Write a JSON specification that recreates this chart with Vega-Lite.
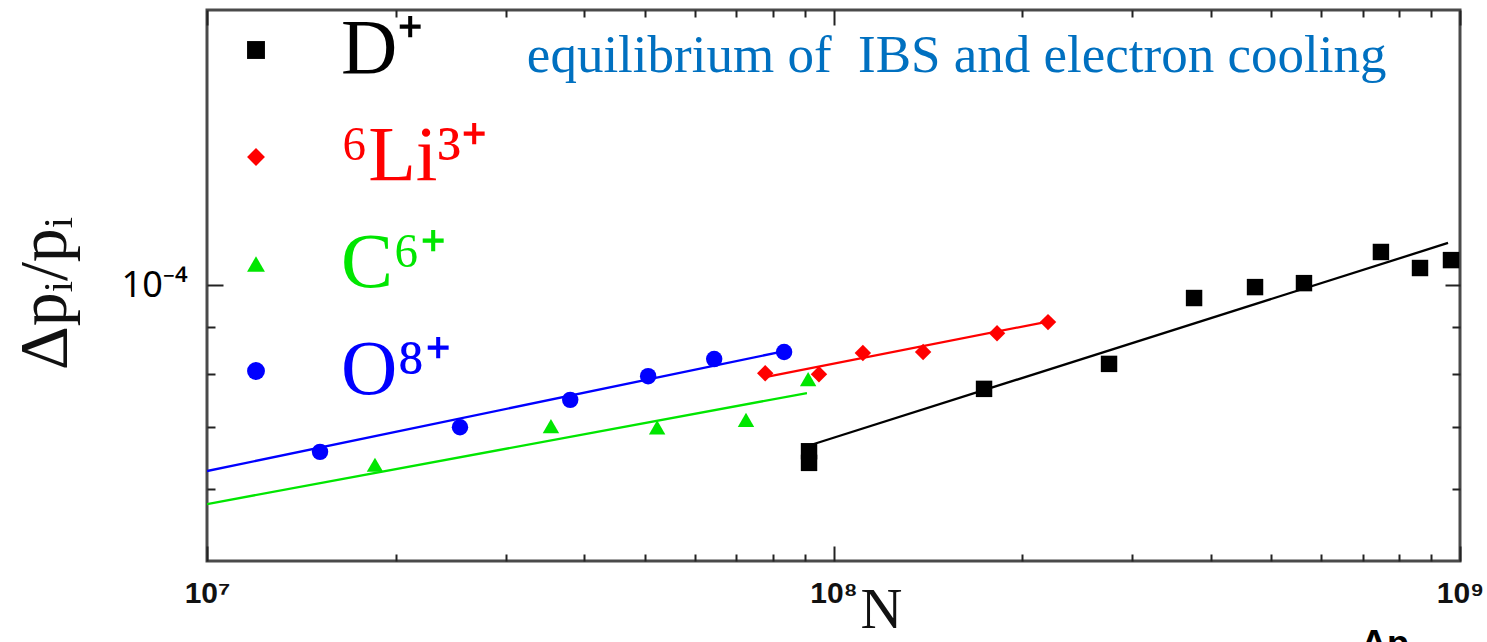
{
  "$schema": "https://vega.github.io/schema/vega-lite/v6.json",
  "width": 1253,
  "height": 551,
  "autosize": {"type": "none"},
  "padding": {"left": 207, "top": 10, "right": 27, "bottom": 81},
  "background": "white",
  "datasets": {
    "fits": [
      {"ion": "O⁸⁺", "N": 10000000, "dp": 0.0000627},
      {"ion": "O⁸⁺", "N": 85000000, "dp": 0.0000850},
      {"ion": "C⁶⁺", "N": 10000000, "dp": 0.0000577},
      {"ion": "C⁶⁺", "N": 90700000, "dp": 0.0000763},
      {"ion": "⁶Li³⁺", "N": 77800000, "dp": 0.0000794},
      {"ion": "⁶Li³⁺", "N": 223000000, "dp": 0.0000915},
      {"ion": "D⁺", "N": 91700000, "dp": 0.0000669},
      {"ion": "D⁺", "N": 957000000, "dp": 0.0001113}
    ],
    "points": [
      {"ion": "O⁸⁺", "N": 15150000, "dp": 0.0000658},
      {"ion": "O⁸⁺", "N": 25340000, "dp": 0.0000700},
      {"ion": "O⁸⁺", "N": 38000000, "dp": 0.0000750},
      {"ion": "O⁸⁺", "N": 50600000, "dp": 0.0000796},
      {"ion": "O⁸⁺", "N": 64500000, "dp": 0.0000831},
      {"ion": "O⁸⁺", "N": 83400000, "dp": 0.0000846},
      {"ion": "C⁶⁺", "N": 18540000, "dp": 0.0000637},
      {"ion": "C⁶⁺", "N": 35400000, "dp": 0.0000702},
      {"ion": "C⁶⁺", "N": 52300000, "dp": 0.0000700},
      {"ion": "C⁶⁺", "N": 72500000, "dp": 0.0000713},
      {"ion": "C⁶⁺", "N": 91100000, "dp": 0.0000790},
      {"ion": "⁶Li³⁺", "N": 77800000, "dp": 0.0000802},
      {"ion": "⁶Li³⁺", "N": 94800000, "dp": 0.0000800},
      {"ion": "⁶Li³⁺", "N": 111400000, "dp": 0.0000844},
      {"ion": "⁶Li³⁺", "N": 139000000, "dp": 0.0000846},
      {"ion": "⁶Li³⁺", "N": 182400000, "dp": 0.0000887},
      {"ion": "⁶Li³⁺", "N": 220000000, "dp": 0.0000912},
      {"ion": "D⁺", "N": 91400000, "dp": 0.0000659},
      {"ion": "D⁺", "N": 91400000, "dp": 0.0000640},
      {"ion": "D⁺", "N": 173900000, "dp": 0.0000771},
      {"ion": "D⁺", "N": 275300000, "dp": 0.0000821},
      {"ion": "D⁺", "N": 376300000, "dp": 0.0000969},
      {"ion": "D⁺", "N": 470800000, "dp": 0.0000996},
      {"ion": "D⁺", "N": 563600000, "dp": 0.0001006},
      {"ion": "D⁺", "N": 747800000, "dp": 0.0001088},
      {"ion": "D⁺", "N": 863300000, "dp": 0.0001045},
      {"ion": "D⁺", "N": 967400000, "dp": 0.0001066}
    ]
  },
  "layer": [
    {
      "data": {"name": "fits"},
      "mark": {"type": "line", "strokeWidth": 2.3, "clip": true},
      "encoding": {
        "x": {
          "field": "N", "type": "quantitative",
          "scale": {"type": "log", "domain": [10000000, 1000000000], "nice": false},
          "axis": {
            "orient": "bottom", "values": [10000000, 100000000, 1000000000],
            "tickSize": -15, "labelFlush": false,
            "labelExpr": "datum.value < 50000000 ? '10⁷' : datum.value < 500000000 ? '10⁸' : '10⁹'",
            "labelFont": "Liberation Sans", "labelFontWeight": "bold", "labelFontSize": 30,
            "labelPadding": 32, "labelColor": "#111111",
            "title": "N", "titleFont": "Liberation Serif", "titleFontSize": 58, "titleFontWeight": "normal",
            "titleColor": "#111111", "titleX": 674, "titleY": 66, "titleBaseline": "alphabetic", "titleAlign": "center"
          }
        },
        "y": {
          "field": "dp", "type": "quantitative",
          "scale": {"type": "log", "domain": [0.00005, 0.0002], "nice": false},
          "axis": {
            "orient": "left", "values": [0.0001], "tickSize": -16,
            "labelExpr": "'10⁻⁴'", "labelFont": "Noto Sans", "labelFontSize": 36, "labelPadding": 36,
            "labelColor": "#000000", "labelBaseline": "middle",
            "title": "Δpᵢ/pᵢ", "titleFont": "Liberation Serif", "titleFontSize": 68, "titleFontWeight": "normal",
            "titleColor": "#111111", "titleX": -142, "titleY": 283, "titleBaseline": "alphabetic", "titleAlign": "center"
          }
        },
        "stroke": {
          "condition": [
            {"test": "datum.ion === 'D⁺'", "value": "#000000"},
            {"test": "datum.ion === '⁶Li³⁺'", "value": "#ff0000"},
            {"test": "datum.ion === 'C⁶⁺'", "value": "#00e600"}
          ],
          "value": "#0000ff"
        },
        "detail": {"field": "ion"}
      }
    },
    {
      "data": {"name": "points"},
      "mark": {"type": "point", "filled": true, "opacity": 1, "size": 270},
      "encoding": {
        "x": {
          "field": "N", "type": "quantitative",
          "scale": {"type": "log", "domain": [10000000, 1000000000], "nice": false},
          "axis": {
            "orient": "bottom",
            "values": [20000000, 30000000, 40000000, 50000000, 60000000, 70000000, 80000000, 90000000, 200000000, 300000000, 400000000, 500000000, 600000000, 700000000, 800000000, 900000000],
            "tickSize": -7, "labels": false, "title": null
          }
        },
        "y": {
          "field": "dp", "type": "quantitative",
          "scale": {"type": "log", "domain": [0.00005, 0.0002], "nice": false},
          "axis": {"orient": "left", "values": [0.00006, 0.00007, 0.00008, 0.00009], "tickSize": -8, "labels": false, "title": null}
        },
        "color": {
          "field": "ion", "type": "nominal",
          "scale": {"domain": ["D⁺", "⁶Li³⁺", "C⁶⁺", "O⁸⁺"], "range": ["#000000", "#ff0000", "#00e600", "#0000ff"]},
          "legend": {
            "title": null, "orient": "none", "legendX": 10, "legendY": 1,
            "labelColor": {"expr": "datum.value === 'D⁺' ? '#000000' : datum.value === '⁶Li³⁺' ? '#ff0000' : datum.value === 'C⁶⁺' ? '#00e600' : '#0000ff'"}
          }
        },
        "shape": {
          "field": "ion", "type": "nominal",
          "scale": {"domain": ["D⁺", "⁶Li³⁺", "C⁶⁺", "O⁸⁺"], "range": ["square", "diamond", "triangle-up", "circle"]},
          "legend": {
            "title": null, "orient": "none", "legendX": 10, "legendY": 1,
            "labelColor": {"expr": "datum.value === 'D⁺' ? '#000000' : datum.value === '⁶Li³⁺' ? '#ff0000' : datum.value === 'C⁶⁺' ? '#00e600' : '#0000ff'"}
          }
        }
      }
    },
    {
      "data": {"values": [{"label": "equilibrium of\u00a0 IBS and electron cooling"}]},
      "mark": {"type": "text", "align": "left", "baseline": "alphabetic", "font": "Liberation Serif", "fontSize": 53, "color": "#0070c0"},
      "encoding": {
        "x": {
          "datum": 32400000, "type": "quantitative",
          "axis": {"orient": "top", "values": [10000000, 100000000, 1000000000], "tickSize": -15, "labels": false, "title": null}
        },
        "y": {
          "datum": 0.0001711, "type": "quantitative",
          "axis": {"orient": "right", "values": [0.0001], "tickSize": -15, "labels": false, "title": null}
        },
        "text": {"field": "label"}
      }
    },
    {
      "data": {"values": [{"label": "Δp"}]},
      "mark": {"type": "text", "align": "left", "baseline": "alphabetic", "font": "Liberation Sans", "fontWeight": "bold", "fontSize": 36, "color": "#000000", "clip": false},
      "encoding": {
        "x": {
          "datum": 695000000, "type": "quantitative",
          "axis": {
            "orient": "top",
            "values": [20000000, 30000000, 40000000, 50000000, 60000000, 70000000, 80000000, 90000000, 200000000, 300000000, 400000000, 500000000, 600000000, 700000000, 800000000, 900000000],
            "tickSize": -7, "labels": false, "title": null
          }
        },
        "y": {
          "datum": 0.0000394, "type": "quantitative",
          "axis": {"orient": "right", "values": [0.00006, 0.00007, 0.00008, 0.00009], "tickSize": -8, "labels": false, "title": null}
        },
        "text": {"field": "label"}
      }
    }
  ],
  "resolve": {"axis": {"x": "independent", "y": "independent"}},
  "config": {
    "view": {"stroke": "#4a4a4a", "strokeWidth": 3},
    "axis": {"grid": false, "domain": false, "tickColor": "#222222", "tickWidth": 2},
    "legend": {
      "padding": 0,
      "symbolSize": 320,
      "symbolStrokeWidth": 0,
      "labelFont": "Liberation Serif",
      "labelFontSize": 78,
      "labelOffset": 46,
      "labelLimit": 400,
      "rowPadding": 29
    }
  }
}
